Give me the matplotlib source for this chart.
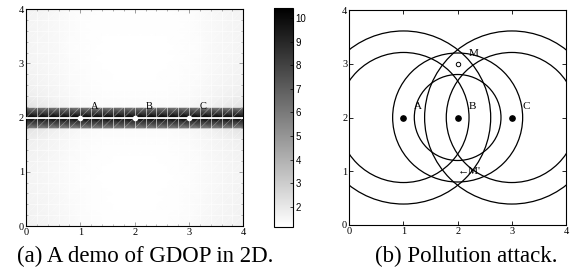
import numpy as np
import matplotlib.pyplot as plt
from matplotlib.patches import Circle
from matplotlib.collections import LineCollection

plt.rcParams['font.family'] = ['Liberation Serif', 'DejaVu Serif']

## Donnees : positions des ancres
anchor_x = [1, 2, 3]
anchor_y = [2, 2, 2]
anchor_names = ['A', 'B', 'C']

## GDOP lu sur la carte (noeuds de la grille, pas 0.2, bord net du bandeau a 1.8 et 2.2)
x_nodes = np.linspace(0, 4, 21)
y_nodes = [0.0, 0.2, 0.4, 0.6, 0.8, 1.0, 1.2, 1.4, 1.6, 1.8, 1.8, 2.0,
           2.2, 2.2, 2.4, 2.6, 2.8, 3.0, 3.2, 3.4, 3.6, 3.8, 4.0]
gdop = [
    [1.66, 1.60, 1.54, 1.47, 1.39, 1.31, 1.26, 1.22, 1.20, 1.20, 1.20, 1.20, 1.20, 1.22, 1.26, 1.31, 1.39, 1.47, 1.54, 1.60, 1.66],
    [1.64, 1.58, 1.52, 1.45, 1.37, 1.29, 1.24, 1.21, 1.19, 1.19, 1.19, 1.19, 1.19, 1.21, 1.24, 1.29, 1.37, 1.45, 1.52, 1.58, 1.64],
    [1.62, 1.56, 1.50, 1.43, 1.35, 1.27, 1.22, 1.20, 1.18, 1.18, 1.18, 1.18, 1.18, 1.20, 1.22, 1.27, 1.35, 1.43, 1.50, 1.56, 1.62],
    [1.60, 1.54, 1.48, 1.41, 1.33, 1.26, 1.21, 1.19, 1.18, 1.17, 1.17, 1.17, 1.18, 1.19, 1.21, 1.26, 1.33, 1.41, 1.48, 1.54, 1.60],
    [1.58, 1.53, 1.47, 1.40, 1.32, 1.25, 1.21, 1.18, 1.17, 1.17, 1.17, 1.17, 1.17, 1.18, 1.21, 1.25, 1.32, 1.40, 1.47, 1.53, 1.58],
    [1.58, 1.53, 1.47, 1.40, 1.32, 1.25, 1.21, 1.18, 1.17, 1.17, 1.17, 1.17, 1.17, 1.18, 1.21, 1.25, 1.32, 1.40, 1.47, 1.53, 1.58],
    [1.60, 1.55, 1.49, 1.41, 1.33, 1.26, 1.22, 1.19, 1.18, 1.18, 1.18, 1.18, 1.18, 1.19, 1.22, 1.26, 1.33, 1.41, 1.49, 1.55, 1.60],
    [1.66, 1.60, 1.53, 1.45, 1.36, 1.28, 1.23, 1.21, 1.20, 1.20, 1.20, 1.20, 1.20, 1.21, 1.23, 1.28, 1.36, 1.45, 1.53, 1.60, 1.66],
    [1.80, 1.72, 1.62, 1.51, 1.41, 1.33, 1.28, 1.25, 1.24, 1.23, 1.23, 1.23, 1.24, 1.25, 1.28, 1.33, 1.41, 1.51, 1.62, 1.72, 1.80],
    [2.20, 2.02, 1.84, 1.66, 1.52, 1.41, 1.35, 1.32, 1.30, 1.30, 1.30, 1.30, 1.30, 1.32, 1.35, 1.41, 1.52, 1.66, 1.84, 2.02, 2.20],
    [5.6, 5.6, 5.6, 5.6, 5.6, 5.6, 5.6, 5.6, 5.6, 5.6, 5.6, 5.6, 5.6, 5.6, 5.6, 5.6, 5.6, 5.6, 5.6, 5.6, 5.6],
    [10.4, 10.4, 10.4, 10.4, 10.4, 10.4, 10.4, 10.4, 10.4, 10.4, 10.4, 10.4, 10.4, 10.4, 10.4, 10.4, 10.4, 10.4, 10.4, 10.4, 10.4],
    [5.6, 5.6, 5.6, 5.6, 5.6, 5.6, 5.6, 5.6, 5.6, 5.6, 5.6, 5.6, 5.6, 5.6, 5.6, 5.6, 5.6, 5.6, 5.6, 5.6, 5.6],
    [2.20, 2.02, 1.84, 1.66, 1.52, 1.41, 1.35, 1.32, 1.30, 1.30, 1.30, 1.30, 1.30, 1.32, 1.35, 1.41, 1.52, 1.66, 1.84, 2.02, 2.20],
    [1.80, 1.72, 1.62, 1.51, 1.41, 1.33, 1.28, 1.25, 1.24, 1.23, 1.23, 1.23, 1.24, 1.25, 1.28, 1.33, 1.41, 1.51, 1.62, 1.72, 1.80],
    [1.66, 1.60, 1.53, 1.45, 1.36, 1.28, 1.23, 1.21, 1.20, 1.20, 1.20, 1.20, 1.20, 1.21, 1.23, 1.28, 1.36, 1.45, 1.53, 1.60, 1.66],
    [1.60, 1.55, 1.49, 1.41, 1.33, 1.26, 1.22, 1.19, 1.18, 1.18, 1.18, 1.18, 1.18, 1.19, 1.22, 1.26, 1.33, 1.41, 1.49, 1.55, 1.60],
    [1.57, 1.52, 1.46, 1.38, 1.30, 1.24, 1.20, 1.18, 1.17, 1.17, 1.17, 1.17, 1.17, 1.18, 1.20, 1.24, 1.30, 1.38, 1.46, 1.52, 1.57],
    [1.56, 1.51, 1.45, 1.37, 1.29, 1.23, 1.20, 1.18, 1.17, 1.17, 1.17, 1.17, 1.17, 1.18, 1.20, 1.23, 1.29, 1.37, 1.45, 1.51, 1.56],
    [1.56, 1.51, 1.45, 1.37, 1.29, 1.23, 1.20, 1.18, 1.18, 1.18, 1.18, 1.18, 1.18, 1.18, 1.20, 1.23, 1.29, 1.37, 1.45, 1.51, 1.56],
    [1.57, 1.52, 1.46, 1.38, 1.30, 1.24, 1.21, 1.19, 1.19, 1.19, 1.19, 1.19, 1.19, 1.19, 1.21, 1.24, 1.30, 1.38, 1.46, 1.52, 1.57],
    [1.58, 1.53, 1.47, 1.39, 1.31, 1.25, 1.22, 1.20, 1.20, 1.20, 1.20, 1.20, 1.20, 1.20, 1.22, 1.25, 1.31, 1.39, 1.47, 1.53, 1.58],
    [1.60, 1.55, 1.49, 1.41, 1.32, 1.26, 1.23, 1.21, 1.20, 1.20, 1.20, 1.20, 1.20, 1.21, 1.23, 1.26, 1.32, 1.41, 1.49, 1.55, 1.60],
]
gdop_min, gdop_max = 1.15, 10.42
cbar_ticks = [2, 3, 4, 5, 6, 7, 8, 9, 10]

## Donnees : attaque par pollution
inner_radius = [1.21, 0.80, 1.21]
outer_radius = [1.61, 1.20, 1.61]
m_x, m_y = 2, 3
m2_x, m2_y = 2, 1

axis_ticks = [0, 1, 2, 3, 4]

W, H = 572, 278
fig = plt.figure(figsize=(W / 100, H / 100), dpi=100)
ax1 = fig.add_axes([26 / W, 52 / H, 217.3 / W, 216.7 / H])
cax = fig.add_axes([274 / W, 51.3 / H, 19.3 / W, 218.4 / H])
ax2 = fig.add_axes([349.3 / W, 53 / H, 216.7 / W, 215 / H])

## (a) carte GDOP
mesh = ax1.pcolormesh(x_nodes, y_nodes, gdop, shading='gouraud', cmap='gray_r',
                      vmin=gdop_min, vmax=gdop_max, rasterized=True)
# coutures blanches du maillage (comme dans l'export d'origine)
for v in x_nodes:
    ax1.axvline(v, color='white', lw=0.5, alpha=0.8, zorder=2)
    ax1.axhline(v, color='white', lw=0.5, alpha=0.8, zorder=2)
segs = [[(x0, y0), (x0 + 0.2, y0 + 0.2)] for x0 in x_nodes[:-1] for y0 in x_nodes[:-1]]
ax1.add_collection(LineCollection(segs, colors='white', linewidths=0.4, alpha=0.45, zorder=2))
ax1.axhline(2, color='white', lw=1.3, zorder=3)
ax1.plot(anchor_x, anchor_y, 'o', color='white', ms=3, zorder=4)
for x, y, name in zip(anchor_x, anchor_y, anchor_names):
    ax1.text(x + 0.2, y + 0.12, name, fontsize=7.5, ha='left', va='bottom', zorder=5)
ax1.set_xticks(x_nodes, minor=True)
ax1.set_yticks(x_nodes, minor=True)
ax1.tick_params(which='minor', direction='in', length=1.5, width=0.5,
                top=True, right=True)

cb = fig.colorbar(mesh, cax=cax, ticks=cbar_ticks)
cb.outline.set_linewidth(0.8)
cax.tick_params(direction='in', length=2, width=0.5, labelsize=7, pad=1.5)
for lab in cax.get_yticklabels():
    lab.set_family(['Liberation Sans', 'DejaVu Sans'])

## (b) attaque par pollution
for x, y, r1, r2 in zip(anchor_x, anchor_y, inner_radius, outer_radius):
    ax2.add_patch(Circle((x, y), r1, fill=False, ec='black', lw=0.9))
    ax2.add_patch(Circle((x, y), r2, fill=False, ec='black', lw=0.9))
ax2.plot(anchor_x, anchor_y, 'o', color='black', ms=3.8)
for x, y, name in zip(anchor_x, anchor_y, anchor_names):
    ax2.text(x + 0.2, y + 0.2, name, fontsize=8, ha='left', va='center')
ax2.plot([m_x], [m_y], 'o', mfc='white', mec='black', ms=3.2, mew=0.7)
ax2.text(m_x + 0.2, m_y + 0.2, 'M', fontsize=8, ha='left', va='center')
ax2.text(m2_x, m2_y, "\u2190M'", fontsize=8, ha='left', va='center')

for ax in (ax1, ax2):
    ax.set_xlim(0, 4)
    ax.set_ylim(0, 4)
    ax.set_xticks(axis_ticks)
    ax.set_yticks(axis_ticks)
    ax.tick_params(direction='in', length=3, width=0.6, labelsize=7.5, pad=1.5,
                   top=True, right=True)
    for s in ax.spines.values():
        s.set_linewidth(0.8)

fig.text(145 / W, 0.076, '(a) A demo of GDOP in 2D.', fontsize=16.5, ha='center', va='center')
fig.text(466.7 / W, 0.076, '(b) Pollution attack.', fontsize=16.5, ha='center', va='center')

fig.savefig('out.png', dpi=100)
